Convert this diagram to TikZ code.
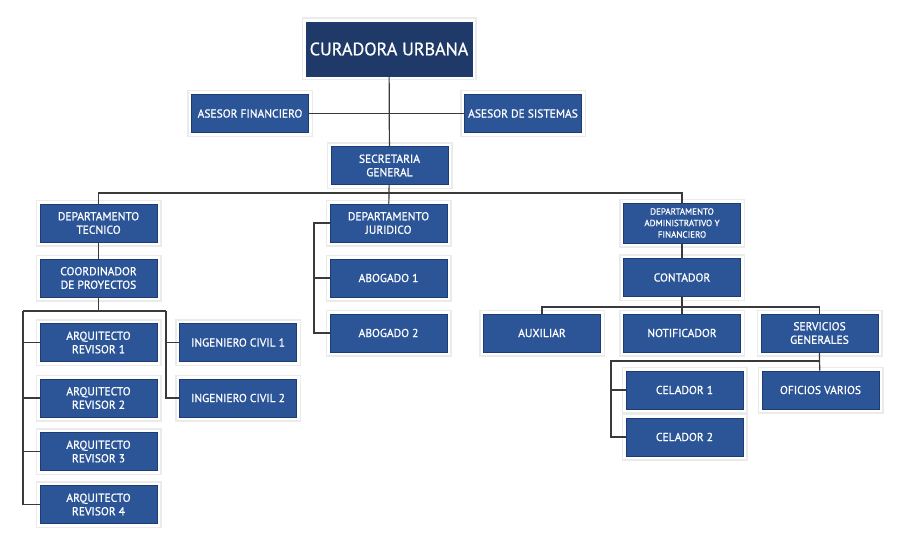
\documentclass[tikz,border=0pt]{standalone}
\usepackage{fontspec}
\setmainfont{PT Sans}
\newfontfamily\boxfont{PT Sans}[FakeBold=0.7]
\usetikzlibrary{positioning,calc}
\definecolor{boxblue}{HTML}{2C5597}
\definecolor{boxedge}{HTML}{1D3C73}
\definecolor{headblue}{HTML}{1F3A68}
\definecolor{linegray}{HTML}{3A3A3A}

\begin{document}
\begin{tikzpicture}[x=1pt,y=-1pt,
      box/.style={fill=boxblue,draw=boxedge,line width=0.8pt,text=white,align=center,
        minimum width=117pt,minimum height=38pt,inner sep=1pt,
        font=\boxfont\fontsize{11.5}{13.5}\selectfont,
        preaction={draw=black!8,line width=9pt},
        preaction={draw=white,line width=6pt}},
      head/.style={box,fill=headblue,minimum width=166pt,minimum height=54pt,
        font=\boxfont\fontsize{18}{20}\selectfont},
      small/.style={box,minimum height=40pt,font=\boxfont\fontsize{9}{11.5}\selectfont},
      conn/.style={draw=linegray,line width=1.2pt}]

    \useasboundingbox (0,0) rectangle (900,551);

    % direccion
    \node[head] (cur) at (389,49) {CURADORA URBANA};
    \node[box] (asfin) at (250,113.5) {ASESOR FINANCIERO};
    \node[box] (assis) at (523,113.5) {ASESOR DE SISTEMAS};
    \node[box] (sec) at (389.5,165.5) {SECRETARIA\\GENERAL};

    % departamento tecnico
    \node[box] (tec) at (98.5,223) {DEPARTAMENTO\\TECNICO};
    \node[box] (coord) at (98.5,278) {COORDINADOR\\DE PROYECTOS};
    \node[box] (ar1) at (98.5,342.5) {ARQUITECTO\\REVISOR 1};
    \node[box] (ar2) at (98.5,398) {ARQUITECTO\\REVISOR 2};
    \node[box] (ar3) at (98.5,451.5) {ARQUITECTO\\REVISOR 3};
    \node[box] (ar4) at (98.5,504.5) {ARQUITECTO\\REVISOR 4};
    \node[box] (ic1) at (238,342.5) {INGENIERO CIVIL 1};
    \node[box] (ic2) at (238,398) {INGENIERO CIVIL 2};

    % departamento juridico
    \node[box] (jur) at (388.5,223) {DEPARTAMENTO\\JURIDICO};
    \node[box] (abo1) at (388.5,278) {ABOGADO 1};
    \node[box] (abo2) at (388.5,333) {ABOGADO 2};

    % departamento administrativo
    \node[small] (adm) at (682,223) {DEPARTAMENTO\\ADMINISTRATIVO Y\\FINANCIERO};
    \node[box] (cont) at (682,277.5) {CONTADOR};
    \node[box] (aux) at (542,333) {AUXILIAR};
    \node[box] (notif) at (682,333) {NOTIFICADOR};
    \node[box] (serv) at (819.5,333) {SERVICIOS\\GENERALES};
    \node[box] (cel1) at (684.5,390) {CELADOR 1};
    \node[box] (cel2) at (684.5,437) {CELADOR 2};
    \node[box] (ofi) at (820.5,390) {OFICIOS VARIOS};

    \coordinate (bus1) at (389,193);
    \coordinate (bus2) at (98.5,311);
    \coordinate (railL) at (23,311);
    \coordinate (railR) at (166,311);
    \coordinate (jrail) at (314,223);
    \coordinate (bus3) at (682,307);
    \coordinate (bus4) at (819.5,361);
    \coordinate (crail) at (611,361);

    \draw[conn] (cur) -- (sec);
    \draw[conn] (asfin) -- (assis);
    \draw[conn] (sec) -- (bus1) -- (jur);
    \draw[conn] (tec.north) |- (bus1) -| (adm.north);

    \draw[conn] (tec) -- (coord);
    \draw[conn] (coord) -- (bus2);
    \draw[conn] (railL) -- (railR);
    \draw[conn] (railL) |- (ar4.west);
    \draw[conn] (railR) |- (ic2.west);
    \foreach \n in {ar1,ar2,ar3}
      \draw[conn] (\n.west) -- (\n.west -| railL);
    \draw[conn] (ic1.west) -- (ic1.west -| railR);

    \draw[conn] (jur.west) -- (jrail) |- (abo2.west);
    \draw[conn] (abo1.west) -- (abo1.west -| jrail);

    \draw[conn] (adm) -- (cont);
    \draw[conn] (cont) -- (bus3) -- (notif);
    \draw[conn] (aux.north) |- (bus3) -| (serv.north);

    \draw[conn] (serv) -- (bus4) -- (ofi);
    \draw[conn] (bus4) -- (crail) |- (cel2.west);
    \draw[conn] (cel1.west) -- (cel1.west -| crail);
  \end{tikzpicture}
\end{document}
